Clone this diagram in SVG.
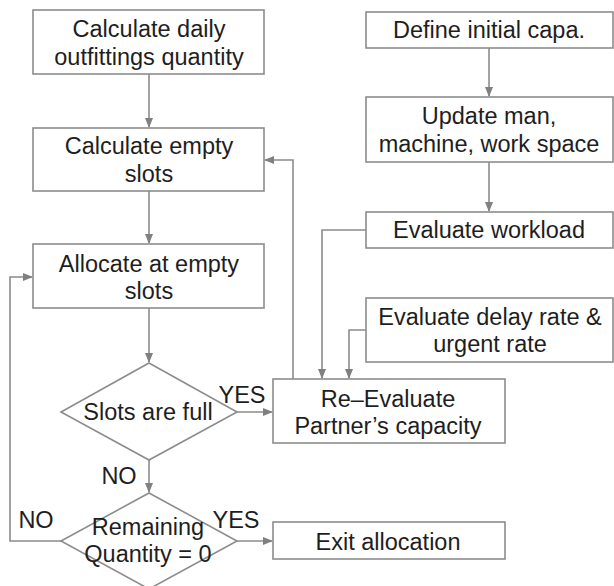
<svg xmlns="http://www.w3.org/2000/svg" width="614" height="586" viewBox="0 0 614 586">
<defs>
<marker id="ah" markerWidth="10" markerHeight="8" refX="9" refY="4" orient="auto" markerUnits="userSpaceOnUse">
<path d="M0,0 L10,4 L0,8 Z" fill="#808080"/>
</marker>
<style>
.box{fill:#fff;stroke:#8c8c8c;stroke-width:1.6}
.t{font-family:"Liberation Sans",Arial,sans-serif;font-size:23.5px;fill:#1e1e1e;text-anchor:middle}
.c{fill:none;stroke:#8c8c8c;stroke-width:1.6}
</style>
</defs>
<rect width="614" height="586" fill="#fff"/>
<g id="connectors">
<path class="c" d="M149,74 V127" marker-end="url(#ah)"/>
<path class="c" d="M149,191 V243" marker-end="url(#ah)"/>
<path class="c" d="M149,308 V362" marker-end="url(#ah)"/>
<path class="c" d="M149,460 V492" marker-end="url(#ah)"/>
<path class="c" d="M237,412 H272" marker-end="url(#ah)"/>
<path class="c" d="M237,541 H272" marker-end="url(#ah)"/>
<path class="c" d="M61,541 H10 V277 H32" marker-end="url(#ah)"/>
<path class="c" d="M293,379 V160 H265" marker-end="url(#ah)"/>
<path class="c" d="M366,230 H322 V378" marker-end="url(#ah)"/>
<path class="c" d="M366,330 H349 V378" marker-end="url(#ah)"/>
<path class="c" d="M489,48 V96" marker-end="url(#ah)"/>
<path class="c" d="M489,162 V211" marker-end="url(#ah)"/>
</g>
<g id="n_daily"><rect class="box" x="33" y="10" width="231" height="64"/><text class="t" x="149" y="37">Calculate daily</text><text class="t" x="149" y="65">outfittings quantity</text></g>
<g id="n_empty"><rect class="box" x="33" y="128" width="231" height="63"/><text class="t" x="149" y="154">Calculate empty</text><text class="t" x="149" y="182">slots</text></g>
<g id="n_alloc"><rect class="box" x="33" y="244" width="231" height="64"/><text class="t" x="149" y="272">Allocate at empty</text><text class="t" x="149" y="299">slots</text></g>
<g id="n_full"><polygon class="box" points="149,363 237,412 149,460 61,412"/><text class="t" x="148" y="420">Slots are full</text></g>
<g id="n_remain"><polygon class="box" points="149,493 237,541 149,589 61,541"/><text class="t" x="148" y="535">Remaining</text><text class="t" x="148" y="562">Quantity = 0</text></g>
<g id="labels">
<text class="t" x="242" y="403">YES</text>
<text class="t" x="119" y="484">NO</text>
<text class="t" x="36" y="528">NO</text>
<text class="t" x="236" y="528">YES</text>
</g>
<g id="n_define"><rect class="box" x="366" y="12" width="247" height="36"/><text class="t" x="489" y="38">Define initial capa.</text></g>
<g id="n_update"><rect class="box" x="366" y="97" width="247" height="65"/><text class="t" x="489" y="124">Update man,</text><text class="t" x="489" y="152">machine, work space</text></g>
<g id="n_workload"><rect class="box" x="366" y="212" width="247" height="36"/><text class="t" x="489" y="238">Evaluate workload</text></g>
<g id="n_delay"><rect class="box" x="366" y="298" width="247" height="64"/><text class="t" x="490" y="325">Evaluate delay rate &amp;</text><text class="t" x="490" y="352">urgent rate</text></g>
<g id="n_reeval"><rect class="box" x="273" y="379" width="232" height="64"/><text class="t" x="388" y="407">Re–Evaluate</text><text class="t" x="388" y="434">Partner’s capacity</text></g>
<g id="n_exit"><rect class="box" x="273" y="522" width="232" height="37"/><text class="t" x="388" y="550">Exit allocation</text></g>
</svg>
